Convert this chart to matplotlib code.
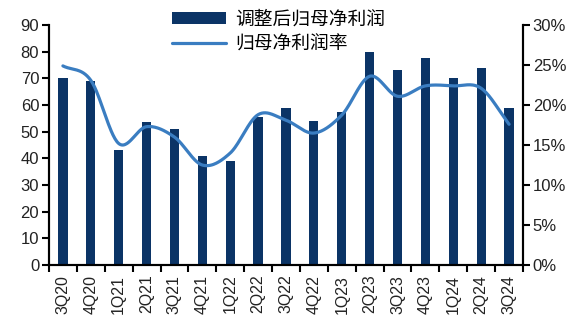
import numpy as np
import matplotlib
matplotlib.use("Agg")
import matplotlib.pyplot as plt
from matplotlib.ticker import FuncFormatter, FixedLocator

plt.rcParams['font.family'] = ['Liberation Sans', 'Noto Sans CJK SC', 'DejaVu Sans']

quarters = ["3Q20", "4Q20", "1Q21", "2Q21", "3Q21", "4Q21", "1Q22", "2Q22", "3Q22",
            "4Q22", "1Q23", "2Q23", "3Q23", "4Q23", "1Q24", "2Q24", "3Q24"]
adj_profit = [70, 69, 43, 53.5, 51, 41, 39, 55.5, 59, 54, 57.5, 80, 73, 77.6, 70, 74, 59]
margin = [24.9, 23.1, 15.2, 17.3, 16.0, 12.5, 14.0, 18.8, 18.1, 16.5, 18.75, 23.6, 21.1, 22.4, 22.4, 22.1, 17.6]

bar_color = "#0B3466"
line_color = "#3A7DC1"

def catmull_rom(xs, ys, n=30):
    xs = np.asarray(xs, float); ys = np.asarray(ys, float)
    px = np.concatenate([[2*xs[0]-xs[1]], xs, [2*xs[-1]-xs[-2]]])
    py = np.concatenate([[2*ys[0]-ys[1]], ys, [2*ys[-1]-ys[-2]]])
    outx, outy = [], []
    for i in range(1, len(px)-2):
        t = np.linspace(0, 1, n, endpoint=(i == len(px)-3))
        for arr, out in ((px, outx), (py, outy)):
            p0, p1, p2, p3 = arr[i-1], arr[i], arr[i+1], arr[i+2]
            out.extend(0.5*((2*p1) + (-p0+p2)*t + (2*p0-5*p1+4*p2-p3)*t**2 + (-p0+3*p1-3*p2+p3)*t**3))
    return np.array(outx), np.array(outy)

fig = plt.figure(figsize=(5.76, 3.35), dpi=100)
ax = fig.add_axes([0.085, 0.209, 0.823, 0.716])
ax2 = ax.twinx()

x = np.arange(len(quarters))
bars = ax.bar(x, adj_profit, width=0.33, color=bar_color, label="调整后归母净利润", zorder=2)
sx, sy = catmull_rom(x, margin)
line, = ax2.plot(sx, sy, color=line_color, lw=2.3, label="归母净利润率", solid_capstyle='round')

ax.set_xlim(-0.5, len(quarters)-0.5)
ax.set_ylim(0, 90)
ax.set_yticks(range(0, 91, 10))
ax2.set_ylim(0, 30)
ax2.set_yticks(range(0, 31, 5))
ax2.yaxis.set_major_formatter(FuncFormatter(lambda v, p: f"{int(v)}%"))

ax.set_xticks(x)
ax.set_xticklabels(quarters, rotation=90)
ax.xaxis.set_minor_locator(FixedLocator(np.arange(-0.5, len(quarters), 1.0)))
ax.tick_params(axis='x', which='major', length=0, pad=7, labelsize=11.5, colors='#222222')
ax.tick_params(axis='x', which='minor', length=5, width=1.5, direction='out')
ax.tick_params(axis='y', length=5, width=1.5, labelsize=12, pad=2, colors='black', labelcolor='#222222')
ax2.tick_params(axis='y', length=5, width=1.5, labelsize=12, pad=2, labelcolor='#222222')

for a in (ax, ax2):
    a.spines['top'].set_visible(False)
    for s in ('left', 'right', 'bottom'):
        a.spines[s].set_linewidth(1.5)

ax.legend([bars, line], ["调整后归母净利润", "归母净利润率"], loc='upper left',
          bbox_to_anchor=(172/576, 1 - 11/335), bbox_transform=fig.transFigure,
          frameon=False, fontsize=13.5, handlelength=2.9, handletextpad=0.45,
          labelspacing=0.4, borderaxespad=0, borderpad=0, handleheight=0.6)

fig.savefig("out.png", dpi=100)
